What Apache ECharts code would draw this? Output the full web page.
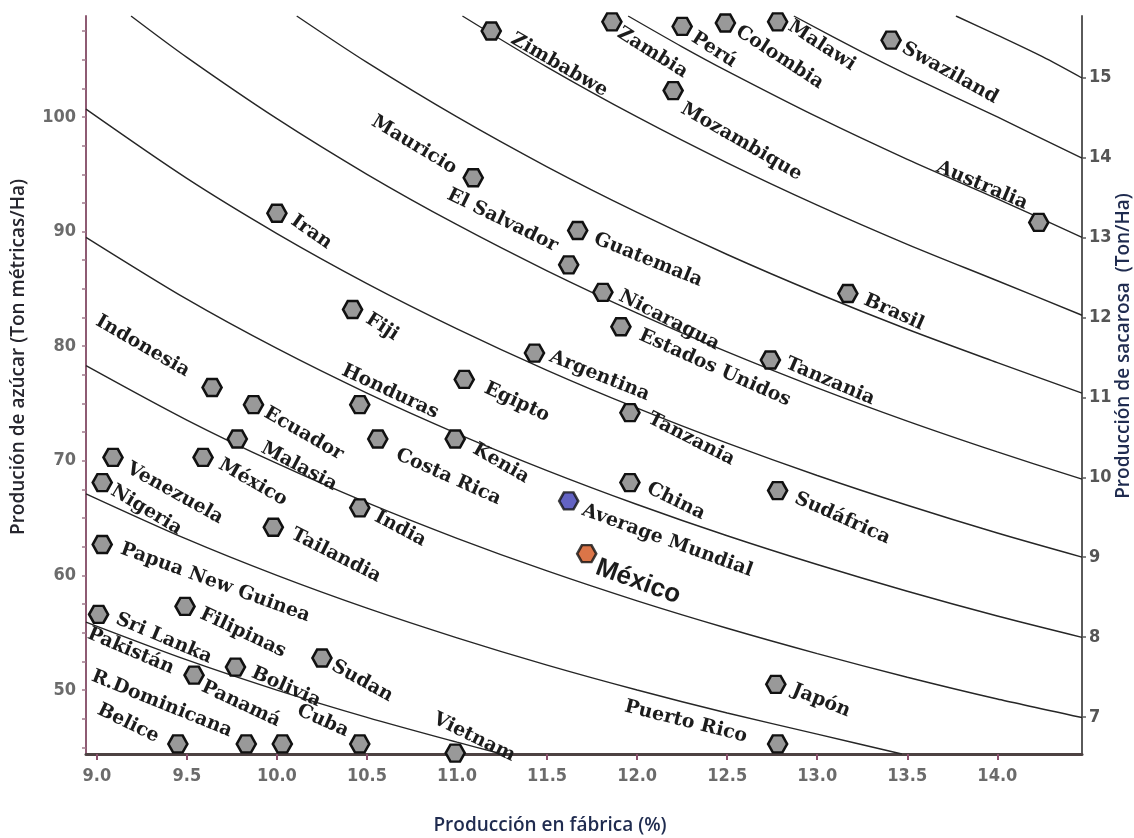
<!DOCTYPE html>
<html><head><meta charset="utf-8">
<script src="https://cdn.jsdelivr.net/npm/echarts@6/dist/echarts.min.js"></script>
<style>html,body{margin:0;padding:0;background:#fff}#chart{width:1134px;height:838px}</style>
</head><body><div id="chart"></div>
<script>
// ---- data ----
const countries = ['Zimbabwe','Zambia','Perú','Colombia','Malawi','Swaziland','Mozambique','Mauricio','Australia','Iran','Guatemala','El Salvador','Nicaragua','Brasil','Fiji','Estados Unidos','Tanzania','Argentina','Egipto','Indonesia','Ecuador','Honduras','Tanzania','Malasia','Costa Rica','Kenia','México','Venezuela','Nigeria','China','Sudáfrica','India','Tailandia','Papua New Guinea','Filipinas','Sri Lanka','Sudan','Bolivia','Pakistán','Japón','Belice','R.Dominicana','Panamá','Cuba','Vietnam','Puerto Rico'];
const fabrica = [11.19,11.86,12.25,12.49,12.78,13.41,12.2,11.09,14.23,10.0,11.67,11.62,11.81,13.17,10.42,11.91,12.74,11.43,11.04,9.64,9.87,10.46,11.96,9.78,10.56,10.99,9.59,9.09,9.03,11.96,12.78,10.46,9.98,9.03,9.49,9.01,10.25,9.77,9.54,12.77,9.45,9.83,10.03,10.46,10.99,12.78];
const azucar = [107.5,108.3,107.9,108.2,108.3,106.7,102.3,94.7,90.8,91.6,90.1,87.1,84.7,84.6,83.2,81.7,78.8,79.4,77.1,76.4,74.9,74.9,74.2,71.9,71.9,71.9,70.3,70.3,68.1,68.1,67.4,65.9,64.2,62.7,57.3,56.6,52.8,52.0,51.3,50.5,45.3,45.3,45.3,45.3,44.5,45.3];
const promedioNombre = 'Average Mundial';
const promedio = [11.62, 66.5];
const mexicoNombre = 'México';
const mexico = [11.72, 61.9];

// iso-lines of sucrose production (Ton/Ha)
const iso5  = [[8.94,55.93],[9.5,52.63],[10,50.0],[10.5,47.62],[11,45.45],[11.25,44.42]];
const iso6  = [[8.94,67.12],[9.5,63.16],[10,60.0],[10.5,57.14],[11,54.55],[11.5,52.17],[12,50.0],[12.5,48.0],[13,46.15],[13.47,44.42]];
const iso7  = [[8.94,78.31],[9.5,73.56],[10,69.77],[10.5,66.35],[11,63.24],[11.5,60.39],[12,57.78],[12.5,55.39],[13,53.18],[13.5,51.12],[14,49.22],[14.47,47.6]];
const iso8  = [[8.94,89.5],[9.5,84.1],[10,79.8],[10.5,75.91],[11,72.38],[11.5,69.15],[12,66.19],[12.5,63.46],[13,60.95],[13.5,58.62],[14,56.46],[14.47,54.6]];
const iso9  = [[8.94,100.68],[9.5,94.64],[10,89.83],[10.5,85.47],[11,81.52],[11.5,77.9],[12,74.59],[12.5,71.54],[13,68.72],[13.5,66.12],[14,63.7],[14.47,61.6]];
const iso10 = [[9.19,108.81],[9.5,105.2],[10,99.85],[10.5,95.0],[11,90.6],[11.5,86.58],[12,82.89],[12.5,79.5],[13,76.37],[13.5,73.47],[14,70.78],[14.47,68.4]];
const iso11 = [[10.11,108.81],[10.5,104.76],[11,100.0],[11.5,95.65],[12,91.67],[12.5,88.0],[13,84.62],[13.5,81.48],[14,78.57],[14.47,75.9]];
const iso12 = [[11.03,108.81],[11.5,104.35],[12,100.0],[12.5,96.0],[13,92.31],[13.5,88.89],[14,85.71],[14.47,82.7]];
const iso13 = [[11.95,108.81],[12.25,106.12],[12.5,104.0],[13,100.0],[13.5,96.3],[14,92.86],[14.47,89.5]];
const iso14 = [[12.87,108.81],[13.25,105.66],[13.5,103.7],[14,100.0],[14.47,96.4]];
const iso15 = [[13.77,108.81],[14,107.14],[14.25,105.26],[14.47,103.4]];

// tick labels
const xTicks = [9.0,9.5,10.0,10.5,11.0,11.5,12.0,12.5,13.0,13.5,14.0];
const yLabels = [50,60,70,80,90,100];
const yMinorTicks = [45,47.5,50,52.5,55,57.5,60,62.5,65,67.5,70,72.5,75,77.5,80,82.5,85,87.5,90,92.5,95,97.5,100,102.5,105,107.5];
const rightTicks = [7,8,9,10,11,12,13,14,15];

// ---- label placement styles (pixels / degrees) ----
const labelOffset = [[21,7],[7,10],[11,10],[12,7],[12,3],[12,7],[9,17],[-18,-8],[-12,-18],[16,6],[17,8],[-12,-18],[17,3],[17,6],[15,8],[19,8],[16,3],[16,3],[21,8],[-24,-15],[12,7],[-17,-35],[19,5],[25,8],[19,15],[19,9],[17,6],[15,10],[10,7],[18,5],[18,7],[16,8],[19,6],[19,4],[16,7],[18,4],[11,7],[17,5],[-21,-6],[17,5],[-20,-6],[-15,-12],[-3,-22],[-12,-12],[-21,-35],[-31,-7]];
const labelAngle = [30,32,33,33,33,29,30,31,23,35,22,26,27,24,33,24,23,22,25,30,30,25,27,28,24,30,30,29,31,26,24,28,27,20,25,23,29,24,23,22,26,22,25,24,26,14];
const rightAligned = [7,8,11,19,38,40,41,42,43,45];

const narrow = "'Liberation Sans Narrow','DejaVu Sans Condensed','Liberation Sans',sans-serif";
const serifFont = "bold 19px 'DejaVu Serif', 'Liberation Serif', serif";
const hexagon = 'path://M0,50 L25,6 L75,6 L100,50 L75,94 L25,94 Z';

const chart = echarts.init(document.getElementById('chart'), null, {renderer:'canvas'});

const isoSets = [iso5, iso6, iso7, iso8, iso9, iso10, iso11, iso12, iso13, iso14, iso15];
const lineSeries = isoSets.map(d => ({
  type:'line', data:d, showSymbol:false, smooth:0.3, silent:true, z:2,
  lineStyle:{color:'#262626', width:1.4}, yAxisIndex:0
}));

const points = fabrica.map((x,i)=>[x, azucar[i]]);

const labelSeries = {
  type:'custom', silent:true, z:5, yAxisIndex:0,
  data: points,
  renderItem: function(params, api){
    const i = params.dataIndex;
    const pt = api.coord([api.value(0), api.value(1)]);
    const off = labelOffset[i];
    return {
      type:'text', x: pt[0]+off[0], y: pt[1]+off[1],
      rotation: -labelAngle[i]*Math.PI/180,
      style:{ text: countries[i], fill:'#1c1c1c', font: serifFont,
        align: rightAligned.indexOf(i) >= 0 ? 'right' : 'left', verticalAlign:'middle' }
    };
  }
};
const specialLabels = {
  type:'custom', silent:true, z:5, yAxisIndex:0,
  data: [promedio, mexico],
  renderItem: function(params, api){
    const i = params.dataIndex;
    const pt = api.coord([api.value(0), api.value(1)]);
    if (i === 0) {
      return { type:'text', x: pt[0]+14, y: pt[1]+9, rotation: -20*Math.PI/180,
        style:{ text: promedioNombre, fill:'#1c1c1c', font: serifFont, align:'left', verticalAlign:'middle' } };
    }
    return { type:'text', x: pt[0]+10, y: pt[1]+13, rotation: -20*Math.PI/180,
      style:{ text: mexicoNombre, fill:'#1c1c1c', font: "bold 26px 'Liberation Sans', Arial, sans-serif", align:'left', verticalAlign:'middle' } };
  }
};

const titleFont = "600 19px 'Open Sans', 'Noto Sans', sans-serif";

chart.setOption({
  animation:false,
  backgroundColor:'#ffffff',
  grid:{left:86, right:52, top:16, bottom:84, containLabel:false, outerBoundsMode:'none'},
  xAxis:{
    type:'value', min:8.94, max:14.47, position:'bottom',
    axisLine:{show:true, lineStyle:{color:'#4d4242', width:3}},
    axisTick:{show:true, customValues:xTicks, length:6, lineStyle:{color:'#8a4f6c', width:2}},
    axisLabel:{customValues:xTicks, formatter:v=>Number(v).toFixed(1), color:'#6b6b6b', fontSize:18, fontWeight:'bold', fontFamily:narrow, margin:13},
    splitLine:{show:false}
  },
  yAxis:[
    { type:'value', min:44.42, max:108.81, position:'left',
      axisLine:{show:true, lineStyle:{color:'#8e5b73', width:2}},
      axisTick:{show:true, customValues:yMinorTicks, length:4, lineStyle:{color:'#a07a8c', width:1.5}},
      axisLabel:{customValues:yLabels, color:'#6b6b6b', fontSize:18, fontWeight:'bold', fontFamily:narrow, margin:10},
      splitLine:{show:false} },
    { type:'value', min:6.537, max:15.773, position:'right',
      axisLine:{show:true, lineStyle:{color:'#5a5a5a', width:2}},
      axisTick:{show:true, customValues:rightTicks, length:4, lineStyle:{color:'#5a5a5a', width:1.5}},
      axisLabel:{customValues:rightTicks, color:'#555555', fontSize:18, fontWeight:'bold', fontFamily:narrow, margin:7},
      splitLine:{show:false} }
  ],
  graphic:[
    {type:'text', x:19, y:357, rotation:Math.PI/2, style:{text:'Produción de azúcar (Ton métricas/Ha)', fill:'#26262e', font:titleFont, align:'center', verticalAlign:'middle'}},
    {type:'text', x:1124, y:346, rotation:Math.PI/2, style:{text:'Producción de sacarosa  (Ton/Ha)', fill:'#1f2b4f', font:titleFont, align:'center', verticalAlign:'middle'}},
    {type:'text', x:550, y:826, style:{text:'Producción en fábrica (%)', fill:'#1f2b4f', font:titleFont, align:'center', verticalAlign:'middle'}}
  ],
  series: lineSeries.concat([
    { type:'scatter', name:'Países', data:points, symbol:hexagon, symbolSize:[19,17], z:4, silent:true,
      itemStyle:{color:'#999999', borderColor:'#111111', borderWidth:2.5, opacity:1} },
    { type:'scatter', name:promedioNombre, data:[promedio], symbol:hexagon, symbolSize:[19,17], z:4, silent:true,
      itemStyle:{color:'#3c3cb4', borderColor:'#111111', borderWidth:2.5} },
    { type:'scatter', name:mexicoNombre, data:[mexico], symbol:hexagon, symbolSize:[19,17], z:4, silent:true,
      itemStyle:{color:'#d2521a', borderColor:'#111111', borderWidth:2.5} },
    labelSeries, specialLabels
  ])
});
</script>
</body></html>
